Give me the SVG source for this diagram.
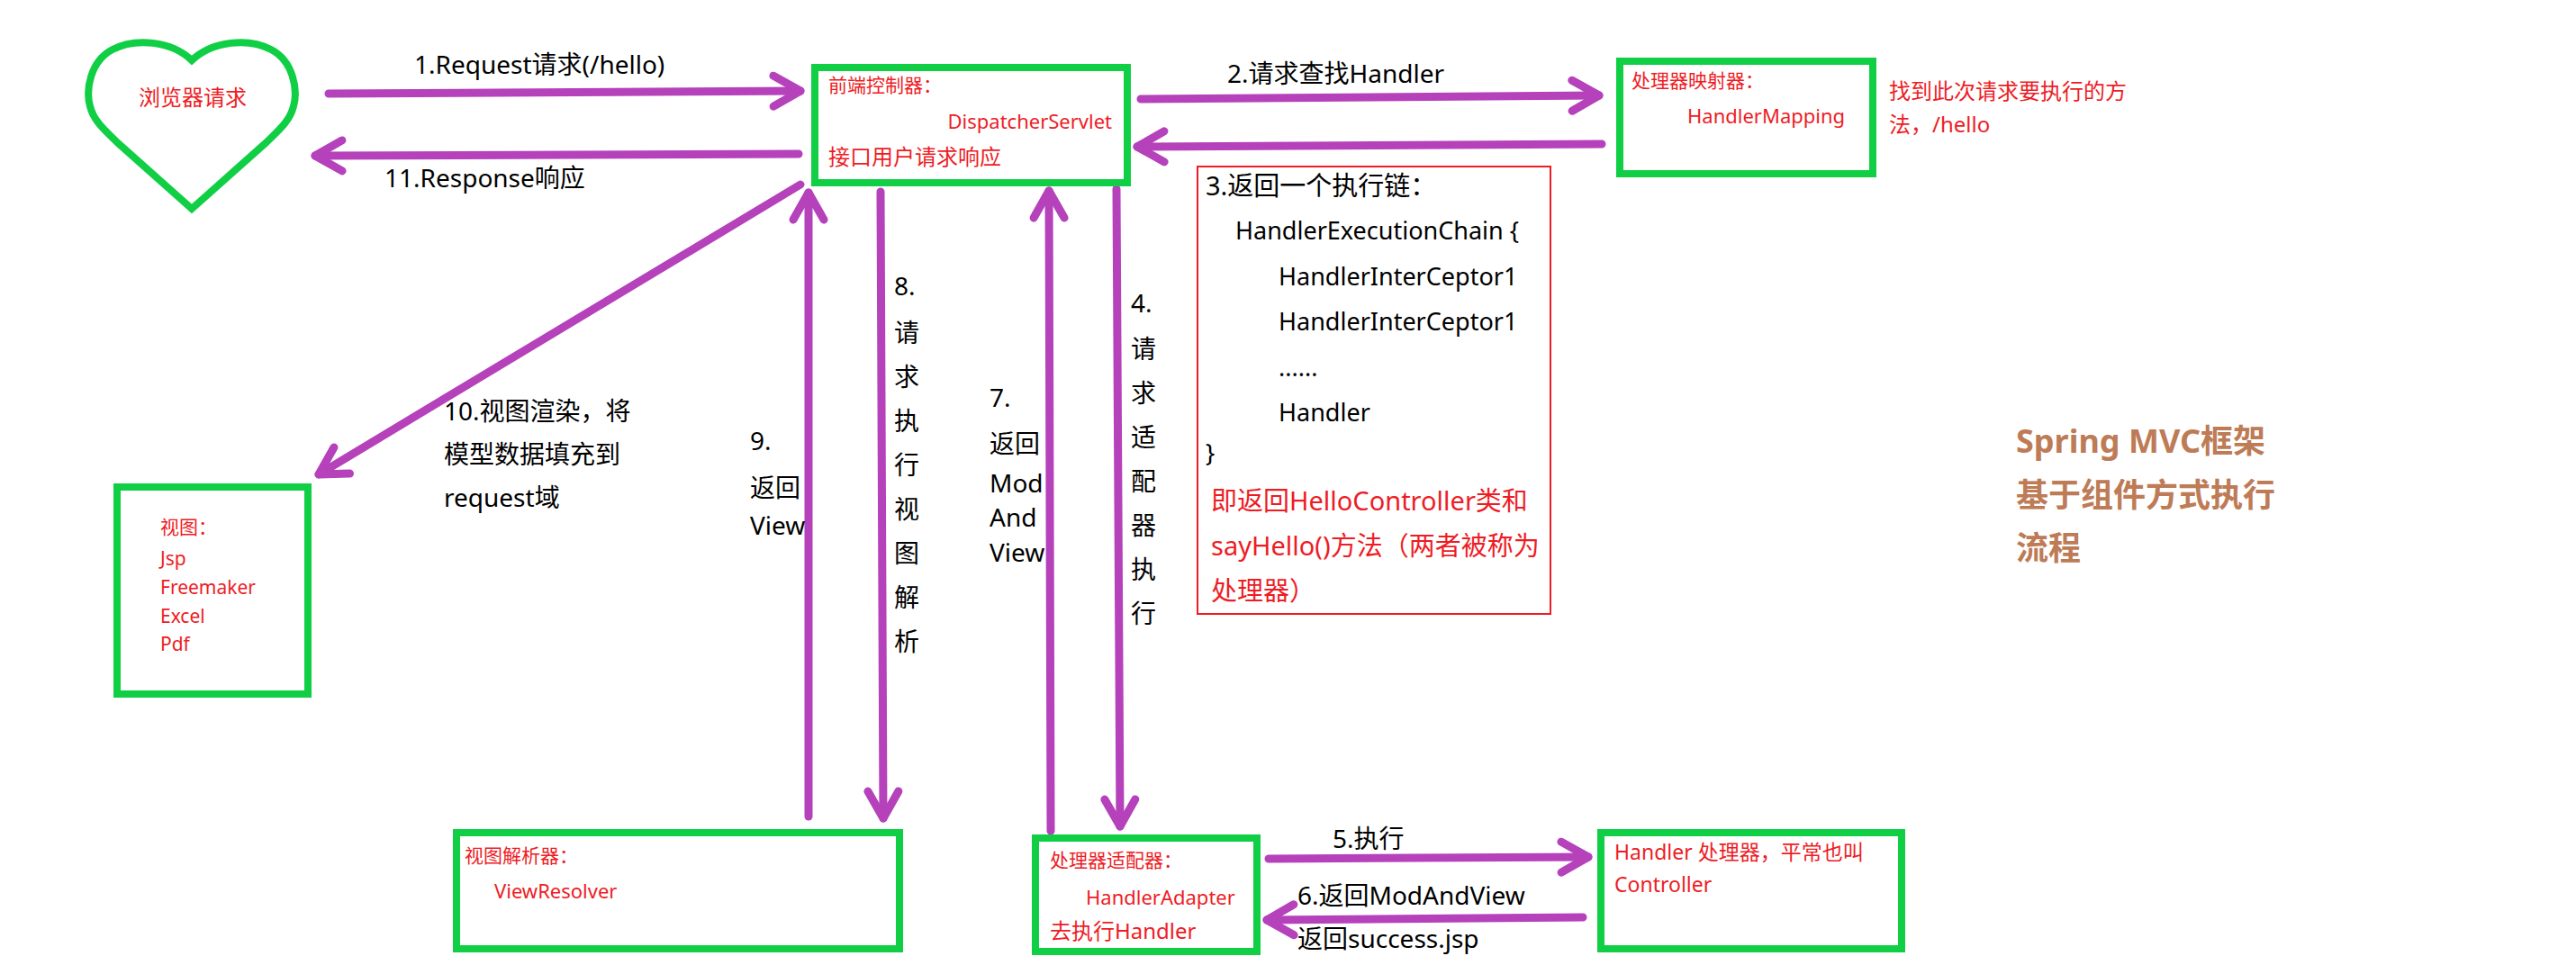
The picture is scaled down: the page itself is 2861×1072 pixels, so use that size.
<svg xmlns="http://www.w3.org/2000/svg" width="2861" height="1072" viewBox="0 0 2861 1072">
<defs>
<style>
text{font-family:"Noto Sans","Noto Sans CJK SC",sans-serif;}
.box{fill:none;stroke:#11CF45;stroke-width:8;}
.redbox{fill:none;stroke:#EE1C25;stroke-width:2;}
.arr{fill:none;stroke:#B541BB;stroke-width:9;stroke-linecap:round;marker-end:url(#chev);}
.lbl{font-size:28px;fill:#000;}
.code{font-size:27px;fill:#000;}
.r21{font-size:21px;fill:#EE1C25;}
.r22{font-size:22px;fill:#EE1C25;}
.r23{font-size:23px;fill:#EE1C25;}
.r24{font-size:24px;fill:#EE1C25;}
.r29{font-size:29px;fill:#EE1C25;}
.title{font-size:36px;font-weight:bold;fill:#BD7B56;}
</style>
<marker id="chev" markerUnits="userSpaceOnUse" viewBox="-40 -30 50 60" refX="0" refY="0" markerWidth="50" markerHeight="60" orient="auto" overflow="visible">
<path d="M-30,-17 L0,0 L-30,17" fill="none" stroke="#B541BB" stroke-width="9" stroke-linecap="round" stroke-linejoin="round"/>
</marker>
</defs>
<rect width="2861" height="1072" fill="#fff"/>

<g id="connectors">
<line class="arr" x1="365" y1="104" x2="889" y2="101"/>
<line class="arr" x1="887" y1="171" x2="350" y2="173"/>
<line class="arr" x1="1267" y1="110" x2="1776" y2="106"/>
<line class="arr" x1="1779" y1="160" x2="1263" y2="163"/>
<line class="arr" x1="889" y1="205" x2="354" y2="527"/>
<line class="arr" x1="898" y1="907" x2="898" y2="214"/>
<line class="arr" x1="978" y1="213" x2="981" y2="909"/>
<line class="arr" x1="1167" y1="923" x2="1165" y2="212"/>
<line class="arr" x1="1240" y1="210" x2="1244" y2="918"/>
<line class="arr" x1="1409" y1="954" x2="1764" y2="952"/>
<line class="arr" x1="1758" y1="1019" x2="1407" y2="1022"/>
<text class="lbl" x="460" y="82">1.Request请求(/hello)</text>
<text class="lbl" x="427" y="208">11.Response响应</text>
<text class="lbl" x="1363" y="92">2.请求查找Handler</text>
<text class="lbl" x="493" y="467">10.视图渲染，将</text>
<text class="lbl" x="493" y="515">模型数据填充到</text>
<text class="lbl" x="493" y="563">request域</text>
<g class="lbl">
<text x="833" y="500">9.</text>
<text x="833" y="552">返回</text>
<text x="833" y="594">View</text>
</g>
<g class="lbl">
<text x="993" y="328">8.</text>
<text x="993" y="380">请</text>
<text x="993" y="429">求</text>
<text x="993" y="478">执</text>
<text x="993" y="527">行</text>
<text x="993" y="576">视</text>
<text x="993" y="625">图</text>
<text x="993" y="674">解</text>
<text x="993" y="723">析</text>
</g>
<g class="lbl">
<text x="1099" y="452">7.</text>
<text x="1099" y="503">返回</text>
<text x="1099" y="547">Mod</text>
<text x="1099" y="585">And</text>
<text x="1099" y="624">View</text>
</g>
<g class="lbl">
<text x="1256" y="347">4.</text>
<text x="1256" y="398">请</text>
<text x="1256" y="447">求</text>
<text x="1256" y="496">适</text>
<text x="1256" y="545">配</text>
<text x="1256" y="594">器</text>
<text x="1256" y="643">执</text>
<text x="1256" y="692">行</text>
</g>
<text class="lbl" x="1480" y="942">5.执行</text>
<text class="lbl" x="1441" y="1005">6.返回ModAndView</text>
<text class="lbl" x="1441" y="1053">返回success.jsp</text>
</g>

<g id="browser">
<path class="box" d="M213,67 C190,45 150,42 125,55 C100,68 95,100 100,118 C104,135 118,146 130,158 L213,232 L296,158 C308,146 322,135 326,118 C331,100 326,68 301,55 C276,42 236,45 213,67 Z"/>
<text class="r24" x="214" y="117" text-anchor="middle">浏览器请求</text>
</g>

<g id="dispatcher">
<rect class="box" x="905" y="75" width="347" height="128"/>
<text class="r21" x="920" y="102">前端控制器：</text>
<text class="r22" x="1235" y="143" text-anchor="end">DispatcherServlet</text>
<text class="r24" x="920" y="183">接口用户请求响应</text>
</g>

<g id="handlerMapping">
<rect class="box" x="1799" y="68" width="281" height="125"/>
<text class="r21" x="1812" y="97">处理器映射器：</text>
<text class="r22" x="1874" y="137">HandlerMapping</text>
<text class="r24" x="2098" y="110">找到此次请求要执行的方</text>
<text class="r24" x="2098" y="147">法，/hello</text>
</g>

<g id="chain">
<rect class="redbox" x="1330" y="185" width="392" height="497"/>
<text class="lbl" x="1339" y="217" style="font-size:29px">3.返回一个执行链：</text>
<text class="code" x="1372" y="266">HandlerExecutionChain {</text>
<text class="code" x="1420" y="317">HandlerInterCeptor1</text>
<text class="code" x="1420" y="367">HandlerInterCeptor1</text>
<text class="code" x="1420" y="418">......</text>
<text class="code" x="1420" y="468">Handler</text>
<text class="code" x="1339" y="513">}</text>
<text class="r29" x="1345" y="567">即返回HelloController类和</text>
<text class="r29" x="1345" y="617">sayHello()方法（两者被称为</text>
<text class="r29" x="1345" y="667">处理器）</text>
</g>

<g id="view">
<rect class="box" x="130" y="541" width="212" height="230"/>
<text class="r21" x="178" y="593">视图：</text>
<text class="r21" x="178" y="628">Jsp</text>
<text class="r21" x="178" y="660">Freemaker</text>
<text class="r21" x="178" y="692">Excel</text>
<text class="r21" x="178" y="723">Pdf</text>
</g>

<g id="viewResolver">
<rect class="box" x="507" y="925" width="492" height="129"/>
<text class="r21" x="516" y="958">视图解析器：</text>
<text class="r22" x="549" y="998">ViewResolver</text>
</g>

<g id="handlerAdapter">
<rect class="box" x="1150" y="931" width="246" height="126"/>
<text class="r21" x="1166" y="963">处理器适配器：</text>
<text class="r22" x="1206" y="1005">HandlerAdapter</text>
<text class="r24" x="1166" y="1043">去执行Handler</text>
</g>

<g id="handler">
<rect class="box" x="1778" y="925" width="334" height="129"/>
<text class="r23" x="1793" y="955">Handler 处理器，平常也叫</text>
<text class="r23" x="1793" y="991">Controller</text>
</g>

<g id="title">
<text class="title" x="2239" y="503">Spring MVC框架</text>
<text class="title" x="2239" y="563">基于组件方式执行</text>
<text class="title" x="2239" y="622">流程</text>
</g>
</svg>
